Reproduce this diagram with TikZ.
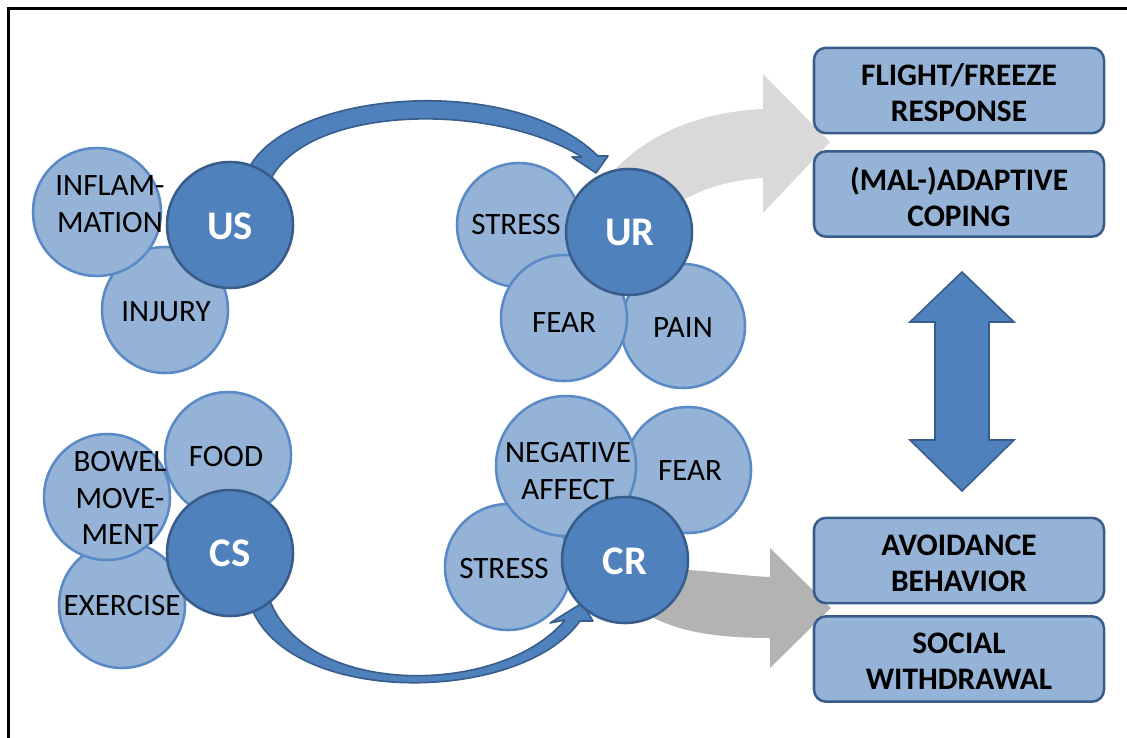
\documentclass[tikz,border=0pt]{standalone}
\usepackage{fontspec}
\setmainfont{Carlito}
\definecolor{dk}{HTML}{4F81BD}
\definecolor{dkb}{HTML}{385D8A}
\definecolor{lt}{HTML}{95B3D7}
\definecolor{ltb}{HTML}{5A8AC6}
\definecolor{gA}{HTML}{D9D9D9}
\definecolor{gB}{HTML}{B3B3B3}
\begin{document}
\begin{tikzpicture}[x=0.75pt,y=-0.75pt,
  lcirc/.style={circle,fill=lt,draw=ltb,line width=1.9pt,inner sep=0pt,minimum size=#1},
  dcirc/.style={circle,fill=dk,draw=dkb,line width=1.9pt,inner sep=0pt,minimum size=94.5pt},
  ltxt/.style={align=center,text=black,font=\fontsize{23.3}{27.5}\selectfont,inner sep=0pt},
  dtxt/.style={text=white,font=\fontsize{30.5}{36}\selectfont\bfseries,inner sep=0pt},
  rbox/.style={rectangle,rounded corners=9pt,fill=lt,draw=dkb,line width=1.9pt,
    minimum width=217.5pt,minimum height=64pt},
  btxt/.style={align=center,inner sep=0pt,font=\fontsize{23.5}{27}\selectfont\bfseries,text=black},
  barrow/.style={fill=dk,draw=dkb,line width=1.2pt,line join=round},
]
\useasboundingbox (0,0) rectangle (1127,738);
\draw[line width=2.6pt,black] (8.5,738) -- (8.5,8.5) -- (1127,8.5);

% gray block arrows (behind circles)
\path[fill=gA] (595,195) .. controls (625,148) and (680,113) .. (763,109)
  -- (763,74) -- (830,142) -- (763,213) -- (763,178)
  .. controls (725,180) and (690,192) .. (660,215) -- (640,232) -- cycle;
\path[fill=gB] (660,560) -- (688,570) .. controls (720,572) and (745,576) .. (770,577)
  -- (770,548) -- (831,608) -- (770,668) -- (770,638)
  .. controls (710,638) and (670,630) .. (640,610) -- (640,570) -- cycle;

% blue curved arrows
\path[barrow] (248,170) .. controls (285,92) and (510,70) .. (598,156)
  -- (608,156) -- (596,173) -- (572,157) -- (582,157)
  .. controls (490,100) and (300,105) .. (268,185) -- cycle;
\path[barrow] (250,604) .. controls (285,707) and (520,705) .. (580,621)
  -- (593,621) -- (582,603) -- (550,623) -- (565,620)
  .. controls (500,698) and (300,698) .. (268,595) -- cycle;

% US group
\node[lcirc=94.5pt] (injury) at (165,310) {};
\node[lcirc=96pt] (inflam) at (97,212) {};
\node[dcirc] (us) at (230,225) {};
\node[ltxt] (tinflam) at (110,204) {INFLAM-\\MATION};
\node[ltxt] (tinjury) at (166,312) {INJURY};
\node[dtxt] (tus) at (230,226) {US};

% UR group
\node[lcirc=93pt] (pain) at (683,326) {};
\node[lcirc=93pt] (stress1) at (519,225) {};
\node[lcirc=94.5pt] (fear1) at (564,318) {};
\node[dcirc] (ur) at (629,232) {};
\node[ltxt] (tstress1) at (516,225) {STRESS};
\node[ltxt] (tfear1) at (564,323) {FEAR};
\node[ltxt] (tpain) at (683,328) {PAIN};
\node[dtxt] (tur) at (630,232) {UR};

% CS group
\node[lcirc=94.5pt] (food) at (228,455) {};
\node[lcirc=94.5pt] (exercise) at (122,605) {};
\node[lcirc=94.5pt] (bowel) at (107,497) {};
\node[dcirc] (cs) at (230,553) {};
\node[ltxt] (tfood) at (226,457) {FOOD};
\node[ltxt] (texercise) at (122,606) {EXERCISE};
\node[ltxt] (tbowel) at (120,498) {BOWEL\\MOVE-\\MENT};
\node[dtxt] (tcs) at (230,553) {CS};

% CR group
\node[lcirc=94.5pt] (fear2) at (688,470) {};
\node[lcirc=94.5pt] (stress2) at (508,567) {};
\node[lcirc=105pt] (neg) at (566,466) {};
\node[dcirc] (cr) at (625,560) {};
\node[ltxt] (tfear2) at (690,471) {FEAR};
\node[ltxt] (tneg) at (568,471) {NEGATIVE\\AFFECT};
\node[ltxt] (tstress2) at (504,569) {STRESS};
\node[dtxt] (tcr) at (625,561) {CR};

% boxes
\node[rbox] (b1) at (959,90.5) {};
\node[rbox] (b2) at (959,194) {};
\node[rbox] (b3) at (959,560.5) {};
\node[rbox] (b4) at (959,659) {};
\node[btxt] (tb1) at (959,93) {FLIGHT/FREEZE\\RESPONSE};
\node[btxt] (tb2) at (959,196.5) {(MAL-)ADAPTIVE\\COPING};
\node[btxt] (tb3) at (959,563) {AVOIDANCE\\BEHAVIOR};
\node[btxt] (tb4) at (959,661.5) {SOCIAL\\WITHDRAWAL};

% double arrow
\path[barrow,line join=miter] (962,272) -- (1014,322) -- (989,322) -- (989,440) -- (1014,440)
  -- (962,491) -- (910,440) -- (935,440) -- (935,322) -- (910,322) -- cycle;
\end{tikzpicture}
\end{document}
